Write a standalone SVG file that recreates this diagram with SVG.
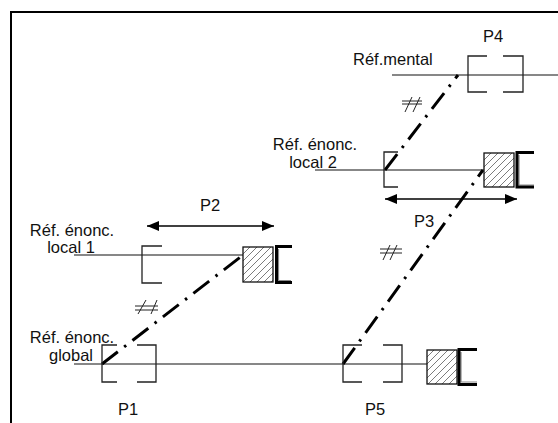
<svg xmlns="http://www.w3.org/2000/svg" width="558" height="423" viewBox="0 0 558 423">
<style>
text{font-family:"Liberation Sans",Arial,sans-serif;font-size:16.5px;fill:#111}
.t{text-anchor:middle}
.thin{fill:none;stroke:#222;stroke-width:1.3}
.base{fill:none;stroke:#111;stroke-width:1.2}
.dd{fill:none;stroke:#000;stroke-width:3;stroke-dasharray:20 8 2.5 8}
.hb{fill:url(#hatch);stroke:#111;stroke-width:1.3}
.thk{fill:none;stroke:#000;stroke-width:3}
.sh{fill:none;stroke:#888;stroke-width:1.2}
.arr{fill:none;stroke:#000;stroke-width:1.5;marker-start:url(#ah);marker-end:url(#ah)}
.ne{fill:none;stroke:#222;stroke-width:1}
</style>
<defs>
<pattern id="hatch" patternUnits="userSpaceOnUse" width="7" height="7">
<path d="M0,7 L7,0 M-1,1 L1,-1 M6,8 L8,6" stroke="#444" stroke-width="0.7"/>
</pattern>
<marker id="ah" viewBox="0 0 12 10" refX="12" refY="5" markerWidth="12" markerHeight="10" markerUnits="userSpaceOnUse" orient="auto-start-reverse">
<path d="M0,0 L12,5 L0,10 z" fill="#000"/>
</marker>
</defs>
<rect width="558" height="423" fill="#fff"/>
<path d="M11,423 V12 H558" fill="none" stroke="#000" stroke-width="2"/>

<g id="connectors">
<path class="base" d="M392,75 H558"/>
<path class="base" d="M315,170 H484"/>
<path class="base" d="M74,255 H243"/>
<path class="base" d="M74,364 H427"/>
<path class="dd" d="M102,364 L243,255"/>
<path class="dd" d="M343,364 L483,170"/>
<path class="dd" d="M385,170 L458,75"/>
<path class="arr" d="M147,226 H274"/>
<path class="arr" d="M385,199 H517"/>
<g id="neq1"><path class="ne" d="M135,306 H158 M135,310 H158 M138,314 L146,300 M151,314 L157,300"/></g>
<g id="neq2"><path class="ne" d="M380,249 H402 M380,253 H402 M383,260 L390,245 M390,260 L397,245"/></g>
<g id="neq3"><path class="ne" d="M402,101 H422 M402,104 H422 M405,112 L412,97 M413,112 L420,97"/></g>
</g>

<g id="ref-mental"><text x="353" y="65">Réf.mental</text></g>
<g id="ref-local2"><text class="t" x="315" y="150">Réf. énonc.</text><text class="t" x="313" y="168">local 2</text></g>
<g id="ref-local1"><text class="t" x="72" y="236">Réf. énonc.</text><text class="t" x="71" y="253">local 1</text></g>
<g id="ref-global"><text class="t" x="72" y="343">Réf. énonc.</text><text class="t" x="71" y="361">global</text></g>

<g id="P1">
<path class="thin" d="M117,345 H102 V382 H117 M137,345 H156 V382 H137"/>
<text class="t" x="128" y="415">P1</text>
</g>
<g id="P2">
<path class="thin" d="M162,246 H142 V283 H162"/>
<rect class="hb" x="243" y="247" width="30" height="35"/>
<path class="sh" d="M278.5,249 V280.5 H291"/>
<path class="thk" d="M292,246.5 H276.5 V282.5 H292"/>
<text class="t" x="210" y="211">P2</text>
</g>
<g id="P3">
<path class="thin" d="M398,152 H384 V187 H398"/>
<rect class="hb" x="484" y="153" width="30" height="34"/>
<path class="sh" d="M519,155 V185 H534"/>
<path class="thk" d="M534,152.5 H517 V187 H534"/>
<text class="t" x="424" y="227">P3</text>
</g>
<g id="P4">
<path class="thin" d="M487,56 H468 V92 H487 M503,56 H523 V92 H503"/>
<text class="t" x="493" y="42">P4</text>
</g>
<g id="P5">
<path class="thin" d="M362,345 H343 V382 H362 M383,345 H402 V382 H383"/>
<rect class="hb" x="427" y="350" width="30" height="34"/>
<path class="sh" d="M461,352 V382 H477"/>
<path class="thk" d="M477,349.5 H459 V384.5 H477"/>
<text class="t" x="375" y="415">P5</text>
</g>
</svg>
